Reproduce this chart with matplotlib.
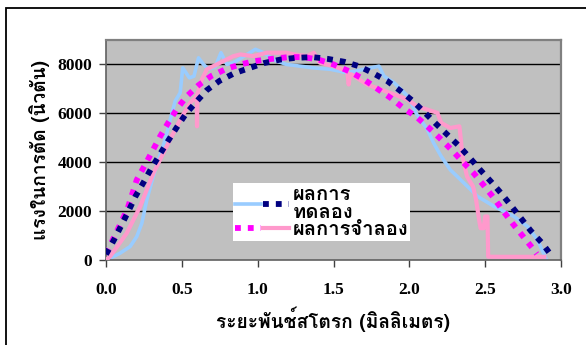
import matplotlib
matplotlib.use("Agg")
import matplotlib.pyplot as plt
from matplotlib.patches import Rectangle
from matplotlib.legend_handler import HandlerTuple

# ---- data ----
exp_x = [0.0, 0.026, 0.09, 0.159, 0.203, 0.236, 0.269, 0.302, 0.346, 0.39, 0.423, 0.456, 0.489,
         0.506, 0.52, 0.55, 0.58, 0.61, 0.643, 0.676, 0.72, 0.758, 0.797, 0.84, 0.93, 0.985,
         1.04, 1.1, 1.19, 1.28, 1.37, 1.48, 1.59, 1.70, 1.80, 1.833, 1.90, 1.99, 2.05, 2.12,
         2.16, 2.21, 2.27, 2.36, 2.45, 2.56, 2.69, 2.78, 2.845, 2.90]
exp_y = [0, 70, 270, 550, 960, 1500, 2460, 3210, 4100, 4920, 5740, 6500, 6840,
         7860, 7730, 7450, 7520, 8270, 8000, 7800, 7900, 8480, 8000, 8070, 8410, 8620,
         8480, 8200, 8000, 7930, 7860, 7800, 7660, 7800, 7930, 7520, 7250, 6700, 5950, 5330,
         4790, 4240, 3690, 3150, 2600, 2190, 1780, 1370, 820, 70]

sim_x = [0.0, 0.026, 0.136, 0.225, 0.313, 0.40, 0.489, 0.555, 0.598, 0.60, 0.603, 0.632, 0.665,
         0.753, 0.84, 0.885, 0.97, 1.06, 1.19, 1.24, 1.325, 1.37, 1.41, 1.50, 1.59, 1.60, 1.61,
         1.62, 1.72, 1.81, 1.90, 1.99, 2.05, 2.12, 2.185, 2.21, 2.27, 2.33, 2.34, 2.35, 2.38,
         2.42, 2.44, 2.46, 2.47, 2.49, 2.50, 2.51, 2.515, 2.52, 2.6, 2.7, 2.8, 2.89]
sim_y = [0, 140, 1090, 2190, 3560, 4650, 5740, 6430, 6700, 5470, 6800, 7390, 7800,
         8070, 8340, 8410, 8340, 8480, 8480, 8410, 8340, 8480, 8070, 7930, 7730, 7180, 7600,
         7590, 7180, 6980, 6770, 6560, 6290, 6150, 6020, 5610, 5400, 5470, 4920, 4240, 3420,
         3010, 2460, 1640, 1300, 1300, 1780, 1780, 1780, 135, 130, 130, 130, 130]

exp_fit_x = [0.0, 0.055, 0.10, 0.148, 0.194, 0.247, 0.297, 0.352, 0.407, 0.467, 0.527, 0.595,
             0.665, 0.749, 0.846, 0.94, 1.044, 1.15, 1.25, 1.36, 1.46, 1.57, 1.667, 1.756,
             1.855, 1.943, 2.02, 2.097, 2.174, 2.25, 2.33, 2.40, 2.467, 2.538, 2.604, 2.67,
             2.736, 2.80, 2.873, 2.934]
exp_fit_y = [230, 850, 1400, 2000, 2600, 3170, 3730, 4290, 4850, 5430, 5980, 6470,
             6950, 7330, 7640, 7840, 8060, 8200, 8270, 8300, 8230, 8110, 7930, 7660,
             7320, 6910, 6520, 6060, 5580, 5130, 4650, 4170, 3690, 3210, 2740, 2230,
             1710, 1200, 710, 205]

sim_fit_x = [0.0, 0.07, 0.141, 0.203, 0.258, 0.308, 0.357, 0.412, 0.467, 0.533, 0.61, 0.692,
             0.793, 0.885, 0.985, 1.095, 1.205, 1.304, 1.40, 1.50, 1.60, 1.70, 1.79, 1.877,
             1.96, 2.05, 2.13, 2.20, 2.278, 2.35, 2.423, 2.487, 2.553, 2.617, 2.68, 2.747,
             2.813, 2.84]
sim_fit_y = [250, 1150, 2080, 3280, 3900, 4480, 5060, 5630, 6180, 6700, 7150, 7520,
             7820, 8000, 8140, 8230, 8300, 8300, 8200, 8000, 7730, 7390, 7000, 6630,
             6220, 5840, 5400, 4990, 4510, 4030, 3560, 3080, 2570, 2020, 1500, 985,
             480, 250]

x_ticks = [0.0, 0.5, 1.0, 1.5, 2.0, 2.5, 3.0]
y_ticks = [0, 2000, 4000, 6000, 8000]
label_exp = "ผลการ\nทดลอง"
label_sim = "ผลการจำลอง"
x_title = "ระยะพันช์สโตรก (มิลลิเมตร)"
y_title = "แรงในการตัด (นิวตัน)"

W, H = 586, 345
fig = plt.figure(figsize=(W / 100, H / 100), dpi=100)
fig.patch.set_facecolor("white")

# outer chart border (left & top visible)
fig.patches.append(Rectangle((6 / W, -0.1), 1.2, (H - 8) / H + 0.1, transform=fig.transFigure,
                             fill=False, edgecolor="black", linewidth=1.3, zorder=0))

ax = fig.add_axes([106 / W, (H - 260) / H, 455 / W, 220 / H])
ax.set_facecolor("#C0C0C0")
ax.set_xlim(0, 3.0)
ax.set_ylim(0, 9000)

for yv in y_ticks[1:]:
    ax.axhline(yv, color="black", linewidth=1.0, zorder=1)

l_exp, = ax.plot(exp_x, exp_y, color="#99CCFF", linewidth=2.6, zorder=2)
l_sim, = ax.plot(sim_x, sim_y, color="#FF99CC", linewidth=3.0, zorder=3)
d_sim, = ax.plot(sim_fit_x, sim_fit_y, color="#FF00FF", linewidth=4.2,
                 linestyle=(0, (1, 1.2)), dash_capstyle="butt", zorder=4)
d_exp, = ax.plot(exp_fit_x, exp_fit_y, color="#000080", linewidth=4.2,
                 linestyle=(0, (1, 1.2)), dash_capstyle="butt", zorder=5)

for s in ["top", "right"]:
    ax.spines[s].set_color("#808080")
    ax.spines[s].set_linewidth(1.6)
for s in ["left", "bottom"]:
    ax.spines[s].set_color("#606060")
    ax.spines[s].set_linewidth(1.2)

serif = ["Liberation Serif", "DejaVu Serif"]
ax.set_xticks(x_ticks)
ax.set_xticklabels([f"{v:.1f}" for v in x_ticks], fontfamily=serif, fontweight="bold", fontsize=12.5)
ax.set_yticks(y_ticks)
ax.set_yticklabels([str(v) for v in y_ticks], fontfamily=serif, fontweight="bold", fontsize=12.5)
ax.tick_params(axis="x", direction="out", length=5, width=1, color="#404040", pad=11)
ax.tick_params(axis="y", direction="out", length=5, width=1, color="#404040", pad=5)

thai = ["Loma", "DejaVu Sans"]
ax.set_xlabel(x_title, fontfamily=thai, fontweight="bold", fontsize=13.8, labelpad=6)
ax.set_ylabel(y_title, fontfamily=thai, fontweight="bold", fontsize=13.8, labelpad=5)

leg = ax.legend([(l_exp, d_exp), (d_sim, l_sim)], [label_exp, label_sim],
                handler_map={tuple: HandlerTuple(ndivide=None)},
                loc="upper left", bbox_to_anchor=((233 - 106) / 455, (260 - 183) / 220),
                prop={"family": thai, "weight": "bold", "size": 14.5},
                frameon=True, fancybox=False, framealpha=1, edgecolor="white",
                borderpad=0.1, handlelength=2.7, handletextpad=0.15, labelspacing=-0.1,
                borderaxespad=0)
leg.get_frame().set_linewidth(0)
for t in leg.get_texts():
    t.set_linespacing(0.95)

fig.savefig("out.png", dpi=100)
